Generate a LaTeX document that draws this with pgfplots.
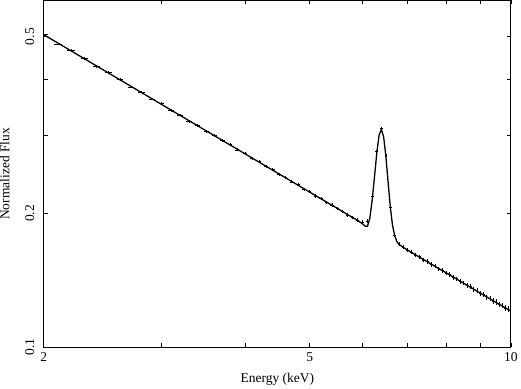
\documentclass[border=0pt]{standalone}
\usepackage{fontspec}
\setmainfont{Liberation Serif}
\usepackage{pgfplots}
\pgfplotsset{compat=1.18}

% model: power law + Fe K line
\newcommand{\modelcoords}{
(2.0,0.5050)(2.5,0.4140)(3.0,0.3520)(3.5,0.3069)(4.0,0.2725)(4.5,0.2454)
(5.0,0.2234)(5.5,0.2053)(5.8,0.1958)(5.9,0.1928)(6.0,0.1895)(6.05,0.1874)
(6.1,0.1872)(6.15,0.1950)(6.2,0.2140)(6.25,0.2420)(6.3,0.2740)(6.35,0.3000)
(6.4,0.3093)(6.45,0.2975)(6.5,0.2690)(6.55,0.2352)(6.6,0.2069)(6.65,0.1885)
(6.7,0.1782)(6.75,0.1730)(6.8,0.1704)(6.9,0.1679)(7.0,0.1656)(7.5,0.1557)
(8.0,0.1471)(8.5,0.1393)(9.0,0.1324)(9.5,0.1262)(10.0,0.1206)}

\begin{document}
\begin{tikzpicture}
\begin{axis}[
  scale only axis, width=466bp, height=346bp,
  xmode=log, ymode=log,
  xmin=2, xmax=10, ymin=0.1, ymax=0.603,
  xtick={2,5,10}, xticklabels={2,5,10},
  minor xtick={3,4,6,7,8,9},
  ytick={0.1,0.2,0.5}, yticklabels={0.1,0.2,0.5},
  minor ytick={0.3,0.4},
  tick align=inside, major tick length=4bp, minor tick length=4bp,
  every tick/.style={black, line width=0.8pt},
  axis line style={line width=0.9pt},
  xtick pos=both, ytick pos=both,
  y tick label style={rotate=90, anchor=south, yshift=6bp},
  x tick label style={yshift=-2bp},
  ticklabel style={font=\fontsize{13.5}{15}\selectfont},
  label style={font=\fontsize{13.5}{15}\selectfont},
  xlabel={Energy (keV)}, ylabel={Normalized Flux},
  xlabel style={at={(axis description cs:0.5,0)}, anchor=north, yshift=-22bp},
  ylabel style={at={(axis description cs:0,0.5)}, anchor=south, rotate=0,
    inner sep=0pt, yshift=34bp},
  /pgf/number format/assume math mode=true,
  clip=true,
]
\addplot[black, line width=1.3pt] coordinates {\modelcoords};
\addplot[draw=none, mark=none,
  error bars/.cd, x dir=both, x explicit, y dir=both, y explicit,
  error mark=none, error bar style={draw=black, line width=0.7pt}]
coordinates {
(2.0,0.5060) +- (0.03,0.0035)
(2.1,0.4810) +- (0.03,0.0033)
(2.2,0.4650) +- (0.03,0.0032)
(2.3,0.4470) +- (0.03,0.0031)
(2.4,0.4280) +- (0.03,0.0030)
(2.5,0.4150) +- (0.03,0.0029)
(2.6,0.4010) +- (0.03,0.0028)
(2.7,0.3850) +- (0.03,0.0027)
(2.8,0.3750) +- (0.03,0.0026)
(2.9,0.3620) +- (0.03,0.0026)
(3.0,0.3530) +- (0.03,0.0025)
(3.1,0.3410) +- (0.03,0.0025)
(3.2,0.3330) +- (0.03,0.0024)
(3.3,0.3225) +- (0.03,0.0024)
(3.4,0.3155) +- (0.03,0.0023)
(3.5,0.3060) +- (0.03,0.0023)
(3.6,0.3000) +- (0.03,0.0022)
(3.7,0.2915) +- (0.03,0.0022)
(3.8,0.2855) +- (0.03,0.0021)
(3.9,0.2780) +- (0.03,0.0021)
(4.0,0.2730) +- (0.03,0.0021)
(4.1,0.2660) +- (0.03,0.0020)
(4.2,0.2615) +- (0.03,0.0020)
(4.3,0.2548) +- (0.03,0.0020)
(4.4,0.2508) +- (0.03,0.0019)
(4.5,0.2449) +- (0.03,0.0019)
(4.6,0.2410) +- (0.03,0.0019)
(4.7,0.2356) +- (0.03,0.0019)
(4.8,0.2321) +- (0.03,0.0018)
(4.9,0.2270) +- (0.03,0.0018)
(5.0,0.2238) +- (0.03,0.0018)
(5.1,0.2190) +- (0.03,0.0018)
(5.2,0.2162) +- (0.03,0.0018)
(5.3,0.2117) +- (0.03,0.0017)
(5.4,0.2090) +- (0.03,0.0017)
(5.5,0.2049) +- (0.03,0.0017)
(5.6,0.2024) +- (0.03,0.0017)
(5.7,0.1984) +- (0.03,0.0017)
(5.8,0.1962) +- (0.03,0.0017)
(5.9,0.1935) +- (0.03,0.0017)
(6.0,0.1915) +- (0.03,0.0017)
(6.1,0.1925) +- (0.03,0.0018)
(6.2,0.2185) +- (0.03,0.0020)
(6.3,0.2755) +- (0.03,0.0024)
(6.4,0.3105) +- (0.03,0.0030)
(6.5,0.2700) +- (0.03,0.0024)
(6.6,0.2060) +- (0.03,0.0020)
(6.7,0.1785) +- (0.03,0.0018)
(6.8,0.1708) +- (0.03,0.0017)
(6.9,0.1680) +- (0.03,0.0017)
(7.0,0.1652) +- (0.03,0.0017)
(7.1,0.1638) +- (0.03,0.0017)
(7.2,0.1611) +- (0.03,0.0017)
(7.3,0.1598) +- (0.03,0.0017)
(7.4,0.1572) +- (0.03,0.0017)
(7.5,0.1560) +- (0.03,0.0017)
(7.6,0.1535) +- (0.03,0.0017)
(7.7,0.1524) +- (0.03,0.0017)
(7.8,0.1500) +- (0.03,0.0017)
(7.9,0.1490) +- (0.03,0.0017)
(8.0,0.1468) +- (0.03,0.0017)
(8.1,0.1457) +- (0.03,0.0017)
(8.2,0.1436) +- (0.03,0.0017)
(8.3,0.1426) +- (0.03,0.0017)
(8.4,0.1405) +- (0.03,0.0017)
(8.5,0.1396) +- (0.03,0.0017)
(8.6,0.1376) +- (0.03,0.0017)
(8.7,0.1368) +- (0.03,0.0017)
(8.8,0.1348) +- (0.03,0.0017)
(8.9,0.1340) +- (0.03,0.0017)
(9.0,0.1321) +- (0.03,0.0017)
(9.1,0.1314) +- (0.03,0.0017)
(9.2,0.1295) +- (0.03,0.0017)
(9.3,0.1289) +- (0.03,0.0017)
(9.4,0.1271) +- (0.03,0.0017)
(9.5,0.1265) +- (0.03,0.0017)
(9.6,0.1247) +- (0.03,0.0017)
(9.7,0.1242) +- (0.03,0.0017)
(9.8,0.1225) +- (0.03,0.0017)
(9.9,0.1219) +- (0.03,0.0017)
(10.0,0.1203) +- (0.03,0.0017)
};
\end{axis}
\end{tikzpicture}
\end{document}
